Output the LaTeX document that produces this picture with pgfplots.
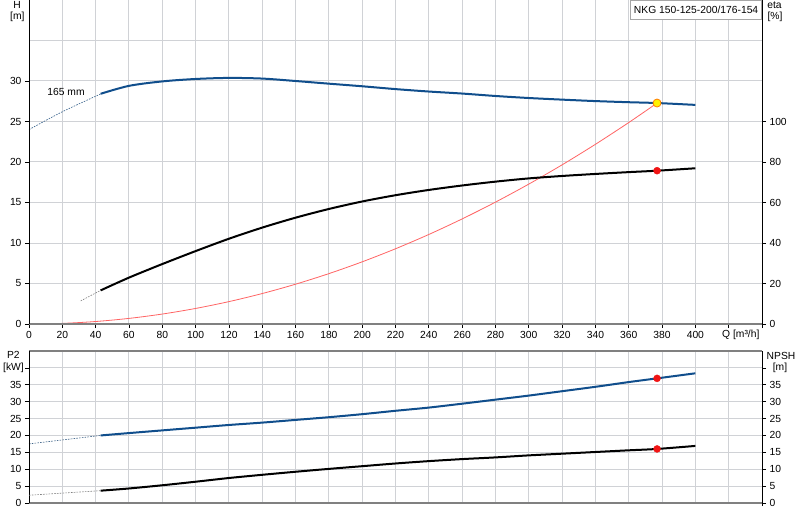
\documentclass[border=0pt]{standalone}
\usepackage{fontspec}
\setmainfont{Liberation Sans}
\usepackage{pgfplots}
\pgfplotsset{compat=1.18}
\definecolor{hblue}{RGB}{16,78,140}
\definecolor{gridc}{RGB}{208,210,214}
\definecolor{sysred}{RGB}{255,100,100}
\definecolor{ptred}{RGB}{240,20,20}
\definecolor{axgray}{RGB}{128,128,128}
\newcommand{\lblfont}{\fontsize{10.3}{12}\selectfont}
\pgfplotsset{
  base/.style={scale only axis, width=733pt, clip=false, axis line style={draw=none},
    xmin=0, xmax=440, tick align=outside, major tick length=4pt,
    tick style={black, line width=0.7pt},
    tick label style={font=\lblfont},
    /pgf/number format/assume math mode=true,
  },
  gridded/.style={grid=both, major grid style={gridc, line width=1pt}, minor grid style={gridc, line width=1pt},
    minor tick length=0pt, xtick={0,20,...,440}},
  dashline/.style={line width=0.6pt, dash pattern=on 1.6pt off 1.2pt},
}
\begin{document}
\begin{tikzpicture}
\useasboundingbox (0,0) rectangle (800pt,520pt);
\fill[white] (0,0) rectangle (800pt,520pt);
% ---------- top panel: H ----------
\begin{axis}[base, gridded, at={(29pt,196pt)}, anchor=south west, height=324pt,
  ymin=0, ymax=40, ytick={0,5,...,30}, minor ytick={35,40},
  xtick pos=left, ytick pos=left,
  xticklabels={0,20,40,60,80,100,120,140,160,180,200,220,240,260,280,300,320,340,360,380,400,{},{}}]
\addplot[sysred, line width=0.8pt, smooth] coordinates {
 (0,0) (20,0.077) (40,0.307) (60,0.691) (80,1.228) (100,1.919) (120,2.763) (140,3.761)
 (160,4.913) (180,6.218) (200,7.676) (220,9.288) (240,11.053) (260,12.973) (280,15.045)
 (300,17.271) (320,19.650) (340,22.184) (360,24.870) (377,27.275)};
\addplot[hblue!70!gray, dashline, smooth] coordinates {(0,24.0) (20,26.2) (43,28.4)};
\addplot[hblue, line width=2pt, smooth] coordinates {
 (43,28.42) (60,29.4) (80,29.95) (100,30.25) (120,30.38) (140,30.3) (160,30.0) (180,29.67)
 (200,29.35) (220,29.0) (240,28.7) (260,28.45) (280,28.15) (300,27.9) (320,27.7)
 (340,27.52) (360,27.38) (377,27.28) (400,27.05)};
\addplot[only marks, mark=*, mark size=4pt, mark options={fill=yellow, draw=orange, line width=0.8pt}] coordinates {(377,27.28)};
\draw[axgray, line width=2pt] (rel axis cs:0,0) -- (rel axis cs:1,0);
\draw[black, line width=1pt] (rel axis cs:0,0) -- (rel axis cs:0,1);
\draw[black, line width=1pt] (rel axis cs:1,-0.012) -- (rel axis cs:1,1);
\end{axis}
% ---------- top panel: eta ----------
\begin{axis}[base, at={(29pt,196pt)}, anchor=south west, height=324pt,
  ymin=0, ymax=160, ytick={0,20,...,100}, ytick pos=right, yticklabel pos=right, xtick=\empty]
\addplot[gray, dashline] coordinates {(31,11.4) (43,16.6)};
\addplot[black, line width=2pt, smooth] coordinates {
 (43,16.6) (60,22.9) (80,29.6) (100,36.0) (120,42.1) (140,47.6) (160,52.5) (180,56.8)
 (200,60.5) (220,63.6) (240,66.2) (260,68.4) (280,70.3) (300,71.9) (320,73.1) (340,74.1)
 (360,75.0) (377,75.7) (400,76.9)};
\addplot[only marks, mark=*, mark size=3.5pt, ptred] coordinates {(377,75.7)};
\end{axis}
% ---------- bottom panel: P2 ----------
\begin{axis}[base, gridded, at={(29pt,17pt)}, anchor=south west, height=152pt,
  ymin=0, ymax=45, ytick={0,5,...,40}, yticklabels={0,5,10,15,20,25,30,35,{}},
  ytick pos=left, xticklabel style={opacity=0}, xtick style={draw=none}]
\addplot[hblue!60!gray, dashline] coordinates {(0,17.5) (43,20.0)};
\addplot[hblue, line width=2pt, smooth] coordinates {
 (43,20.0) (60,20.7) (80,21.5) (100,22.3) (120,23.1) (140,23.8) (160,24.6) (180,25.4)
 (200,26.3) (220,27.3) (240,28.25) (260,29.4) (280,30.6) (300,31.8) (320,33.1)
 (340,34.4) (360,35.8) (377,36.9) (400,38.4)};
\addplot[only marks, mark=*, mark size=3.5pt, ptred] coordinates {(377,36.9)};
\draw[axgray, line width=2pt] (rel axis cs:0,0) -- (rel axis cs:1,0);
\draw[axgray, line width=1.2pt] (rel axis cs:0,1) -- (rel axis cs:1,1);
\draw[black, line width=1pt] (rel axis cs:0,0) -- (rel axis cs:0,1);
\draw[black, line width=1pt] (rel axis cs:1,-0.02) -- (rel axis cs:1,1);
\end{axis}
% ---------- bottom panel: NPSH ----------
\begin{axis}[base, at={(29pt,17pt)}, anchor=south west, height=152pt,
  ymin=0, ymax=45, ytick={0,5,...,40}, yticklabels={0,5,10,15,20,25,30,35,{}},
  ytick pos=right, yticklabel pos=right, xtick=\empty]
\addplot[gray, dashline] coordinates {(0,2.3) (43,3.65)};
\addplot[black, line width=2pt, smooth] coordinates {
 (43,3.65) (60,4.3) (80,5.25) (100,6.3) (120,7.4) (140,8.35) (160,9.25) (180,10.1)
 (200,10.9) (220,11.7) (240,12.4) (260,13.0) (280,13.5) (300,14.1) (320,14.6)
 (340,15.1) (360,15.6) (377,16.0) (400,16.9)};
\addplot[only marks, mark=*, mark size=3.5pt, ptred] coordinates {(377,16.0)};
\end{axis}
% ---------- labels ----------
\begin{scope}[every node/.style={font=\lblfont, inner sep=0pt}]
\node[anchor=base] at (17pt,511.7pt) {H};
\node[anchor=base] at (17.3pt,500pt) {[m]};
\node[anchor=base] at (774.5pt,511.7pt) {eta};
\node[anchor=base] at (775pt,500pt) {[\%]};
\node[anchor=base] at (13.3pt,161.7pt) {P2};
\node[anchor=base] at (13.5pt,149.7pt) {[kW]};
\node[anchor=base] at (781pt,161pt) {NPSH};
\node[anchor=base] at (780pt,149.7pt) {[m]};
\node[anchor=base west] at (722pt,182.7pt) {Q [m³/h]};
\node[anchor=base] at (66pt,424pt) {165 mm};
\node[draw=gray!70, fill=white, line width=0.8pt, minimum width=131pt, minimum height=19pt,
  anchor=north east] at (762pt,520pt) {NKG 150-125-200/176-154};
\end{scope}
\end{tikzpicture}
\end{document}
